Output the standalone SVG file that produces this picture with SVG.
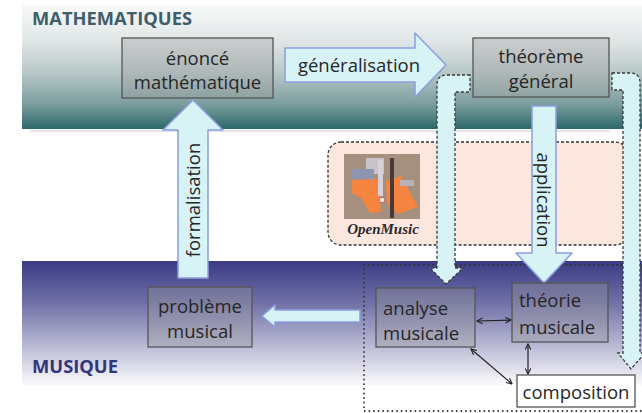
<svg xmlns="http://www.w3.org/2000/svg" width="642" height="413" viewBox="0 0 642 413">
<defs>
<linearGradient id="gMath" x1="0" y1="0" x2="0" y2="1">
<stop offset="0" stop-color="#f8f9f9"/>
<stop offset="0.3" stop-color="#dfe5e5"/>
<stop offset="0.55" stop-color="#b8c7c7"/>
<stop offset="0.8" stop-color="#7b9d9e"/>
<stop offset="1" stop-color="#2c6869"/>
</linearGradient>
<linearGradient id="gMus" x1="0" y1="0" x2="0" y2="1">
<stop offset="0" stop-color="#3a3b84"/>
<stop offset="0.35" stop-color="#7373a9"/>
<stop offset="0.7" stop-color="#bdbdd7"/>
<stop offset="1" stop-color="#fafafc"/>
</linearGradient>
<marker id="ah" viewBox="0 0 10 10" refX="9" refY="5" markerWidth="7" markerHeight="7" orient="auto-start-reverse" markerUnits="userSpaceOnUse">
<path d="M1,1 L9,5 L1,9" fill="none" stroke="#222" stroke-width="1.6"/>
</marker>
<style>
.lbl{font-family:"Open Sans","Liberation Sans",sans-serif;font-size:18.5px;fill:#262626}
.title{font-family:"Open Sans","Liberation Sans",sans-serif;font-size:17px;font-weight:bold}
.box{stroke:#555;stroke-width:1.3;fill:#9a9a9a;fill-opacity:0.35}
.blk{fill:#d8f3f6;stroke:#8a9fe0;stroke-width:1.5;stroke-linejoin:round}
.hook{fill:#d8f3f6;stroke:#3a3a3a;stroke-width:1.3;stroke-dasharray:3,2}
.thin{stroke:#222;stroke-width:1.2;fill:none;marker-start:url(#ah);marker-end:url(#ah)}
</style>
</defs>

<g id="band-math">
<rect x="22" y="5" width="620" height="124" fill="url(#gMath)"/>
<line x1="30" y1="131" x2="610" y2="131" stroke="#d6dcdc" stroke-width="1.5"/>
<text class="title" x="32" y="25" fill="#3f5e68" textLength="160" lengthAdjust="spacingAndGlyphs">MATHEMATIQUES</text>
</g>

<g id="band-openmusic">
<rect x="328" y="142" width="300" height="103" rx="13" fill="#fbe7de" stroke="#333" stroke-width="1.3" stroke-dasharray="3,2"/>
<g id="openmusic-logo">
<rect x="344" y="154" width="76" height="65" fill="#a58f7e"/>
<rect x="366" y="158" width="18" height="16" fill="#c9c3cc"/>
<rect x="352" y="169" width="22" height="10" fill="#8d95b2"/>
<polygon points="352,180 378,179 381,212 370,213 361,198 352,193" fill="#f4843f"/>
<polygon points="386,181 401,176 418,207 398,214 387,204" fill="#f4843f"/>
<rect x="390" y="158" width="4" height="60" fill="#4a3a35"/>
<rect x="378" y="160" width="5" height="36" fill="#d9cfd6"/>
<circle cx="382" cy="200" r="2.8" fill="#f2e6e6" stroke="#c56a5a" stroke-width="1"/>
<rect x="400" y="180" width="14" height="6" fill="#b9b0b8"/>
<text x="383" y="234" text-anchor="middle" font-family="'Liberation Serif',serif" font-size="15px" font-weight="bold" font-style="italic" fill="#2a2a2a">OpenMusic</text>
</g>
</g>

<g id="band-music">
<rect x="22" y="261" width="620" height="124" fill="url(#gMus)"/>
<text class="title" x="32" y="373" fill="#33357a" textLength="86" lengthAdjust="spacingAndGlyphs">MUSIQUE</text>
</g>

<rect id="music-zone" x="364" y="265" width="300" height="146" fill="none" stroke="#333" stroke-width="1.8" stroke-dasharray="0.1,4.5" stroke-linecap="round"/>

<g id="connectors">
<path id="generalisation" class="blk" d="M285,48 H415 V33 L446,65 L415,97 V82 H285 Z"/>
<text class="lbl" x="359" y="72" text-anchor="middle">généralisation</text>

<path id="formalisation" class="blk" d="M178,278 V130 H163 L193,100 L223,130 H208 V278 Z"/>
<text class="lbl" transform="translate(200,200) rotate(-90)" text-anchor="middle">formalisation</text>

<path id="application" class="blk" d="M532,106 V253 H516 L544,283 L572,253 H556 V106 Z"/>
<text class="lbl" transform="translate(537,200) rotate(90)" text-anchor="middle">application</text>

<path id="retour" class="blk" d="M360,310 H275 V305 L262,316 L275,327 V322 H360 Z"/>

<path id="hook-analyse" class="hook" d="M470,75 H447 Q437,75 437,85 V268 H430 L446,284 L463,268 H455 V92 H470 Z"/>
<path id="hook-composition" class="hook" d="M612,73 H630 Q640,73 640,83 V353 H645 L631,369 L618,353 H623 V90 H612 Z"/>

<line class="thin" x1="477" y1="321" x2="511" y2="320"/>
<line class="thin" x1="528" y1="344" x2="528" y2="374"/>
<line class="thin" x1="471" y1="349" x2="512" y2="384"/>
</g>

<g id="node-enonce">
<rect class="box" x="122" y="38" width="151" height="60"/>
<text class="lbl" x="197.5" y="65" text-anchor="middle">énoncé</text>
<text class="lbl" x="197.5" y="89" text-anchor="middle">mathématique</text>
</g>

<g id="node-theoreme">
<rect class="box" x="473" y="38" width="136" height="59"/>
<text class="lbl" x="541" y="63" text-anchor="middle">théorème</text>
<text class="lbl" x="541" y="88" text-anchor="middle">général</text>
</g>

<g id="node-probleme">
<rect class="box" x="148" y="287" width="104" height="60"/>
<text class="lbl" x="200" y="313" text-anchor="middle">problème</text>
<text class="lbl" x="200" y="338" text-anchor="middle">musical</text>
</g>

<g id="node-analyse">
<rect class="box" x="376" y="288" width="99" height="59"/>
<text class="lbl" x="383" y="315">analyse</text>
<text class="lbl" x="383" y="340">musicale</text>
</g>

<g id="node-theorie">
<rect class="box" x="512" y="283" width="96" height="59"/>
<text class="lbl" x="519" y="307">théorie</text>
<text class="lbl" x="519" y="334">musicale</text>
</g>

<g id="node-composition">
<rect x="517" y="375" width="118" height="32" fill="#ffffff" stroke="#555" stroke-width="1.3"/>
<text class="lbl" x="576" y="399" text-anchor="middle">composition</text>
</g>
</svg>
